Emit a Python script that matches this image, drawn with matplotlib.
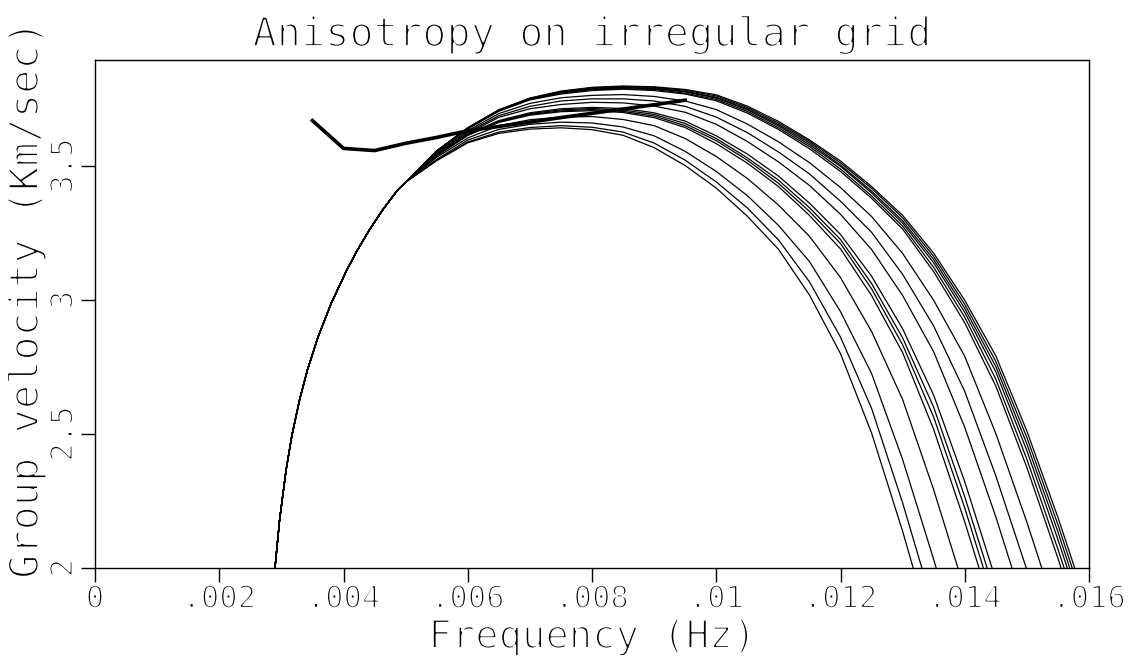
import matplotlib
matplotlib.use('Agg')
import matplotlib.pyplot as plt
import matplotlib.patheffects as pe

# tramo de subida comun a todas las curvas
freq_rise = [0.002897, 0.002973, 0.003076, 0.003168, 0.003292, 0.003419, 0.00359,
             0.003804, 0.004053, 0.004225, 0.004415, 0.004628, 0.004869, 0.005]
vel_rise = [2.0, 2.183, 2.366, 2.493, 2.627, 2.739, 2.862,
            2.989, 3.112, 3.187, 3.261, 3.336, 3.41, 3.44]

# frecuencias donde se leen las velocidades de cada curva
freq_grid = [0.0055, 0.006, 0.0065, 0.007, 0.0075, 0.008, 0.0085, 0.009, 0.0095, 0.010,
             0.0105, 0.011, 0.0115, 0.012, 0.0125, 0.013, 0.0135, 0.014, 0.0145, 0.015, 0.0155]

# frecuencia donde cada curva corta v = 2
freq_end = [0.01317, 0.01331, 0.01354, 0.01389, 0.01423, 0.0143, 0.01436, 0.01444,
            0.01476, 0.01499, 0.01524, 0.01555, 0.0156, 0.01565, 0.01569, 0.01573, 0.01577]

v01 = [3.520, 3.587, 3.622, 3.638, 3.643, 3.636, 3.615, 3.569, 3.502, 3.418, 3.313, 3.190, 3.019, 2.800, 2.504, 2.137]
v02 = [3.522, 3.590, 3.627, 3.644, 3.651, 3.645, 3.627, 3.586, 3.522, 3.441, 3.344, 3.225, 3.068, 2.862, 2.596, 2.243]
v03 = [3.525, 3.597, 3.637, 3.656, 3.664, 3.661, 3.646, 3.613, 3.555, 3.480, 3.390, 3.279, 3.144, 2.957, 2.726, 2.405, 2.032]
v04 = [3.533, 3.605, 3.651, 3.673, 3.683, 3.685, 3.674, 3.651, 3.603, 3.536, 3.454, 3.355, 3.238, 3.084, 2.883, 2.629, 2.292]
v05 = [3.538, 3.615, 3.663, 3.690, 3.703, 3.707, 3.700, 3.681, 3.644, 3.584, 3.511, 3.424, 3.316, 3.191, 3.017, 2.804, 2.517, 2.172]
v06 = [3.540, 3.615, 3.665, 3.693, 3.706, 3.711, 3.704, 3.687, 3.651, 3.595, 3.522, 3.436, 3.331, 3.211, 3.042, 2.833, 2.563, 2.224]
v07 = [3.542, 3.617, 3.667, 3.696, 3.710, 3.715, 3.709, 3.693, 3.659, 3.603, 3.531, 3.448, 3.345, 3.226, 3.062, 2.859, 2.600, 2.266]
v08 = [3.543, 3.619, 3.670, 3.699, 3.714, 3.719, 3.715, 3.699, 3.668, 3.613, 3.545, 3.463, 3.362, 3.245, 3.089, 2.893, 2.645, 2.322]
v09 = [3.546, 3.622, 3.682, 3.714, 3.730, 3.738, 3.736, 3.724, 3.701, 3.656, 3.592, 3.516, 3.428, 3.320, 3.189, 3.017, 2.807, 2.525, 2.191]
v10 = [3.548, 3.627, 3.688, 3.723, 3.743, 3.751, 3.751, 3.743, 3.723, 3.683, 3.625, 3.553, 3.471, 3.369, 3.253, 3.096, 2.903, 2.659, 2.344]
v11 = [3.551, 3.632, 3.696, 3.734, 3.755, 3.764, 3.767, 3.760, 3.743, 3.711, 3.657, 3.591, 3.513, 3.420, 3.312, 3.174, 2.999, 2.790, 2.502, 2.171]
v12 = [3.555, 3.639, 3.705, 3.747, 3.769, 3.782, 3.787, 3.782, 3.769, 3.744, 3.698, 3.637, 3.565, 3.480, 3.380, 3.265, 3.106, 2.915, 2.679, 2.375, 2.036]
v13 = [3.556, 3.640, 3.706, 3.749, 3.772, 3.785, 3.789, 3.786, 3.772, 3.749, 3.704, 3.643, 3.573, 3.489, 3.389, 3.276, 3.122, 2.936, 2.705, 2.406, 2.070]
v14 = [3.556, 3.641, 3.707, 3.750, 3.775, 3.788, 3.792, 3.789, 3.777, 3.754, 3.710, 3.650, 3.580, 3.499, 3.400, 3.287, 3.139, 2.954, 2.732, 2.438, 2.106]
v15 = [3.556, 3.642, 3.707, 3.751, 3.776, 3.789, 3.794, 3.791, 3.779, 3.757, 3.714, 3.655, 3.587, 3.504, 3.407, 3.296, 3.151, 2.969, 2.752, 2.463, 2.135]
v16 = [3.557, 3.643, 3.710, 3.753, 3.778, 3.792, 3.797, 3.794, 3.783, 3.762, 3.719, 3.661, 3.593, 3.512, 3.417, 3.307, 3.163, 2.984, 2.771, 2.487, 2.162]
v17 = [3.557, 3.643, 3.710, 3.754, 3.780, 3.794, 3.799, 3.796, 3.786, 3.766, 3.724, 3.667, 3.598, 3.519, 3.424, 3.316, 3.175, 2.999, 2.792, 2.511, 2.189]

curvas = [v01, v02, v03, v04, v05, v06, v07, v08, v09, v10, v11, v12, v13, v14, v15, v16, v17]

# linea gruesa
path_freq = [0.0035, 0.004, 0.0045, 0.005, 0.0055, 0.006, 0.0065, 0.007, 0.0075,
             0.008, 0.0085, 0.009, 0.0095]
path_vel = [3.67, 3.566, 3.558, 3.585, 3.607, 3.632, 3.648, 3.664, 3.681,
            3.697, 3.713, 3.729, 3.746]

x_ticks = [0, 0.002, 0.004, 0.006, 0.008, 0.010, 0.012, 0.014, 0.016]
x_labels = ['0', '.002', '.004', '.006', '.008', '.01', '.012', '.014', '.016']
y_ticks = [2, 2.5, 3, 3.5]
y_labels = ['2', '2.5', '3', '3.5']

plt.rcParams['font.family'] = 'DejaVu Sans Mono'

# trazo fino para imitar la letra del original
fino = [pe.Normal(), pe.Stroke(linewidth=1.5, foreground='white')]
fino_ticks = [pe.Normal(), pe.Stroke(linewidth=1.3, foreground='white')]

fig = plt.figure(figsize=(11.32, 6.63), dpi=100)
ax = fig.add_axes([95 / 1132, 95 / 663, 994 / 1132, 508 / 663])

for v, fin in zip(curvas, freq_end):
    f = freq_rise + freq_grid[:len(v)] + [fin]
    y = vel_rise + v + [2.0]
    ax.plot(f, y, color='black', linewidth=0.9)

ax.plot(path_freq, path_vel, color='black', linewidth=2.6, solid_joinstyle='miter')

ax.set_xlim(0, 0.016)
ax.set_ylim(2, 3.896)
ax.set_xticks(x_ticks)
ax.set_xticklabels(x_labels, fontsize=22)
ax.set_yticks(y_ticks)
ax.set_yticklabels(y_labels, fontsize=22, rotation=90, va='center')
ax.tick_params(direction='out', length=10, width=1, top=False, right=False)
ax.tick_params(axis='x', pad=2)
ax.tick_params(axis='y', pad=2)
for lab in ax.get_xticklabels() + ax.get_yticklabels():
    lab.set_path_effects(fino_ticks)
for s in ax.spines.values():
    s.set_linewidth(1)

t = ax.set_title('Anisotropy on irregular grid', fontsize=29, pad=10)
t.set_path_effects(fino)
xl = ax.set_xlabel('Frequency (Hz)', fontsize=28)
xl.set_path_effects(fino)
ax.xaxis.set_label_coords(0.5, -(618 - 568) / 508)
yl = ax.set_ylabel('Group velocity (Km/sec)', fontsize=29)
yl.set_path_effects(fino)
ax.yaxis.set_label_coords(-(95 - 47) / 994, (568 - 300) / 508)

fig.savefig('out.png', dpi=100)
